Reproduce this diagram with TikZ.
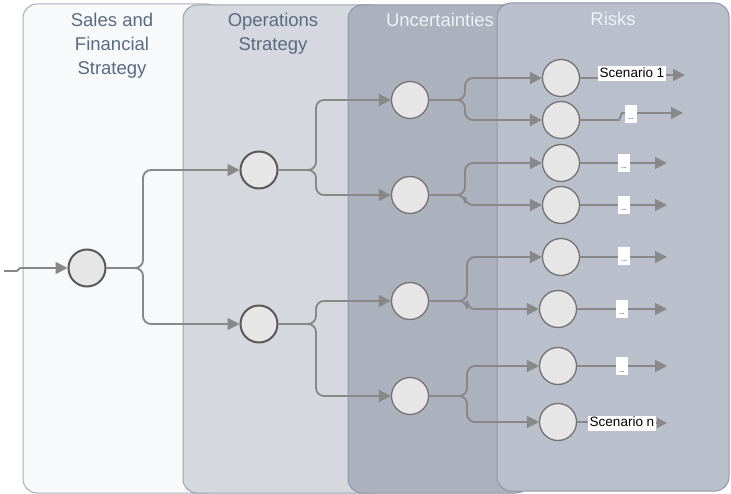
\documentclass[tikz,border=0pt]{standalone}
\usepackage{fontspec}
\setmainfont{Liberation Sans}
\usetikzlibrary{arrows.meta}
\definecolor{pOne}{HTML}{F8F9FA}
\definecolor{pTwo}{HTML}{D5D8DE}
\definecolor{pThree}{HTML}{ABB1BD}
\definecolor{pFour}{HTML}{B9BFCB}
\definecolor{bOne}{HTML}{A9AFB9}
\definecolor{bTwo}{HTML}{9CA2AE}
\definecolor{bThree}{HTML}{8F97A6}
\definecolor{titleDark}{HTML}{5B6A80}
\definecolor{titleLight}{HTML}{EEF1F5}
\definecolor{connC}{HTML}{888888}
\definecolor{circFill}{HTML}{E6E6E6}
\tikzset{
  panel/.style={rounded corners=14pt, line width=1pt},
  ttl/.style={align=center, font=\fontsize{18.5}{24}\selectfont, inner sep=0pt, anchor=north},
  bigcirc/.style={circle, minimum size=37pt, inner sep=0pt, fill=circFill, draw=black!65, line width=2pt},
  smlcirc/.style={circle, minimum size=37pt, inner sep=0pt, fill=circFill, draw=black!55, line width=1.3pt},
  conn/.style={draw=connC, line width=1.9pt, rounded corners=8pt},
  arr/.style={conn, -{Triangle[length=12pt,width=12pt]}},
  lbl/.style={fill=white, inner xsep=1.5pt, inner ysep=1pt, font=\fontsize{13.5}{14}\selectfont, text height=10pt, text depth=3pt},
  dotbox/.style={fill=white, inner xsep=0.5pt, inner ysep=1pt, font=\fontsize{7}{8}\selectfont, text height=14pt, text depth=2pt, minimum width=12pt}
}
\begin{document}
\begin{tikzpicture}[x=1pt,y=-1pt]
\useasboundingbox (0,0) rectangle (731,494);
% panels
\draw[panel, fill=pOne, draw=bOne] (23,4) rectangle (220,493);
\draw[panel, fill=pTwo, draw=bTwo] (183,5) rectangle (385,493);
\draw[panel, fill=pThree, draw=bThree] (348,5) rectangle (530,493);
\draw[panel, fill=pFour, draw=bThree] (497,3) rectangle (729,491);
% titles
\node[ttl, text=titleDark] (t1) at (112,13) {Sales and\\Financial\\Strategy};
\node[ttl, text=titleDark] (t2) at (273,13) {Operations\\Strategy};
\node[ttl, text=titleLight] (t3) at (440,13) {Uncertainties};
\node[ttl, text=titleLight] (t4) at (613,12) {Risks};
% circles
\node[bigcirc] (A) at (87,268) {};
\node[bigcirc] (B1) at (259,170) {};
\node[bigcirc] (B2) at (259,324) {};
\node[smlcirc] (C1) at (410,100) {};
\node[smlcirc] (C2) at (410,195) {};
\node[smlcirc] (C3) at (410,301) {};
\node[smlcirc] (C4) at (410,396) {};
\node[smlcirc] (D1) at (561,78) {};
\node[smlcirc] (D2) at (561,120) {};
\node[smlcirc] (D3) at (561,163) {};
\node[smlcirc] (D4) at (561,205) {};
\node[smlcirc] (D5) at (561,257) {};
\node[smlcirc] (D6) at (558,309) {};
\node[smlcirc] (D7) at (558,366) {};
\node[smlcirc] (D8) at (558,422) {};
% split points
\coordinate (in) at (4,271);
\coordinate (inj) at (17,271);
\coordinate (inj2) at (20,268);
\coordinate (sA) at (143,268);
\coordinate (sB1) at (316,170);
\coordinate (sB2) at (316,324);
\coordinate (sC1) at (465,100);
\coordinate (sC2) at (465,195);
\coordinate (sC3) at (467,301);
\coordinate (sC4) at (467,396);
% connectors
\draw[conn, rounded corners=0pt] (in) -- (inj) -- (inj2);
\draw[arr] (inj2) -- (A.west);
\draw[arr] (A.east) -- (sA) |- (B1.west);
\draw[arr] (A.east) -- (sA) |- (B2.west);
\draw[arr] (B1.east) -- (sB1) |- (C1.west);
\draw[arr] (B1.east) -- (sB1) |- (C2.west);
\draw[arr] (B2.east) -- (sB2) |- (C3.west);
\draw[arr] (B2.east) -- (sB2) |- (C4.west);
\draw[arr] (C1.east) -- (sC1) |- (D1.west);
\draw[arr] (C1.east) -- (sC1) |- (D2.west);
\draw[arr] (C2.east) -- (sC2) |- (D3.west);
\draw[arr] (C2.east) -- (sC2) |- (D4.west);
\draw[arr] (C3.east) -- (sC3) |- (D5.west);
\draw[arr] (C3.east) -- (sC3) |- (D6.west);
\draw[arr] (C4.east) -- (sC4) |- (D7.west);
\draw[arr] (C4.east) -- (sC4) |- (D8.west);
% outputs
\node[lbl] (L1) at (632,74) {Scenario 1};
\coordinate (E1) at (685,75);
\draw[conn] (D1.east) -- (L1.west |- D1.east);
\draw[arr] (L1.east |- E1) -- (E1);

\node[dotbox] (L2) at (631,114) {...};
\coordinate (j2a) at (619,120);
\coordinate (j2b) at (622,113);
\coordinate (E2) at (683,113);
\draw[conn, rounded corners=0pt] (D2.east) -- (j2a) -- (j2b) -- (L2.west |- E2);
\draw[arr] (L2.east |- E2) -- (E2);

\node[dotbox] (L3) at (624,163) {...};
\coordinate (E3) at (667,163);
\draw[conn] (D3.east) -- (L3.west |- E3);
\draw[arr] (L3.east |- E3) -- (E3);

\node[dotbox] (L4) at (624,205) {...};
\coordinate (E4) at (667,205);
\draw[conn] (D4.east) -- (L4.west |- E4);
\draw[arr] (L4.east |- E4) -- (E4);

\node[dotbox] (L5) at (624,256) {...};
\coordinate (E5) at (667,257);
\draw[conn] (D5.east) -- (L5.west |- E5);
\draw[arr] (L5.east |- E5) -- (E5);

\node[dotbox] (L6) at (622,309) {...};
\coordinate (E6) at (667,309);
\draw[conn] (D6.east) -- (L6.west |- E6);
\draw[arr] (L6.east |- E6) -- (E6);

\node[dotbox] (L7) at (622,366) {...};
\coordinate (E7) at (667,366);
\draw[conn] (D7.east) -- (L7.west |- E7);
\draw[arr] (L7.east |- E7) -- (E7);

\node[lbl] (L8) at (622,423) {Scenario n};
\coordinate (E8) at (667,423);
\draw[conn] (D8.east) -- (L8.west |- D8.east);
\draw[arr, -{Triangle[length=10pt,width=10pt]}] (L8.east |- E8) -- (E8);
\end{tikzpicture}
\end{document}
